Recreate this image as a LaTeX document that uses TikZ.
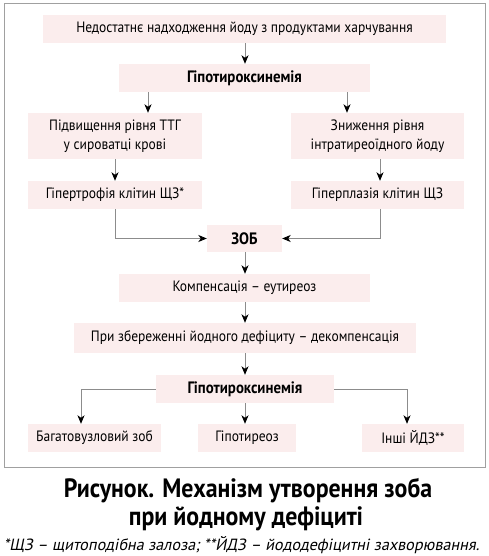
\documentclass[tikz,border=0pt]{standalone}
\usepackage{fontspec}
\setmainfont{PT Sans}[FakeStretch=0.9]
\newfontfamily\oblfont{PT Sans}[FakeSlant=0.2]
\usetikzlibrary{arrows.meta}
\definecolor{boxfill}{HTML}{FBEDED}
\definecolor{linegray}{HTML}{8C8C8C}
\definecolor{framegray}{HTML}{A0A0A0}
\begin{document}
\begin{tikzpicture}[x=1pt,y=-1pt,
  box/.style={fill=boxfill, draw=none, inner sep=0pt, align=center,
    font=\fontsize{15}{19.5}\selectfont},
  bbox/.style={box, font=\fontsize{16.5}{18}\selectfont\bfseries},
  conn/.style={draw=linegray, line width=0.8pt,
    -{Stealth[length=8.5pt,width=7pt,inset=2.5pt,color=black]}}
]
\useasboundingbox (0,0) rectangle (489,556);
\draw[framegray, line width=1pt] (4.5,3.5) rectangle (485,467.5);

\node[box, minimum width=403, minimum height=28] (b1) at (244.5,29) {Недостатнє надходження йоду з продуктами харчування};
\node[bbox, minimum width=251, minimum height=28] (b2) at (244.5,78) {Гіпотироксинемія};
\node[box, minimum width=174, minimum height=46] (b3l) at (115,136) {Підвищення рівня ТТГ\\у сироватці крові};
\node[box, minimum width=173, minimum height=46] (b3r) at (377.5,136) {Зниження рівня\\інтратиреоїдного йоду};
\node[box, minimum width=174, minimum height=28] (b4l) at (115,195) {Гіпертрофія клітин ЩЗ*};
\node[box, minimum width=173, minimum height=28] (b4r) at (377.5,195) {Гіперплазія клітин ЩЗ};
\node[bbox, minimum width=75, minimum height=27] (zob) at (244.5,238.5) {ЗОБ};
\node[box, minimum width=251, minimum height=28] (comp) at (244.5,288) {Компенсація – еутиреоз};
\node[box, minimum width=342, minimum height=30] (pri) at (245,338) {При збереженні йодного дефіциту – декомпенсація};
\node[bbox, minimum width=178, minimum height=28] (g2) at (245,389) {Гіпотироксинемія};
\node[box, minimum width=133, minimum height=28] (bl) at (94.5,438) {Багатовузловий зоб};
\node[box, minimum width=98, minimum height=28] (bm) at (247,438) {Гіпотиреоз};
\node[box, minimum width=102, minimum height=28] (br) at (413,438) {Інші ЙДЗ**};

\coordinate (xa) at (245,0);
\coordinate (xl) at (148,0);
\coordinate (xr) at (347,0);
\coordinate (xll) at (115,0);
\coordinate (xrr) at (380,0);
\coordinate (xbl) at (81,0);
\coordinate (xbr) at (407,0);

\draw[conn] (b1.south -| xa) -- (b2.north -| xa);
\draw[conn] (b2.south -| xl) -- (b3l.north -| xl);
\draw[conn] (b2.south -| xr) -- (b3r.north -| xr);
\draw[conn] (b3l.south -| xll) -- (b4l.north -| xll);
\draw[conn] (b3r.south -| xrr) -- (b4r.north -| xrr);
\draw[conn] (b4l.south -| xll) |- (zob.west);
\draw[conn] (b4r.south -| xrr) |- (zob.east);
\draw[conn] (zob.south -| xa) -- (comp.north -| xa);
\draw[conn] (comp.south -| xa) -- (pri.north -| xa);
\draw[conn] (pri.south -| xa) -- (g2.north -| xa);
\draw[conn] (g2.west) -| (bl.north -| xbl);
\draw[conn] (g2.south -| xa) -- (bm.north -| xa);
\draw[conn] (g2.east) -| (br.north -| xbr);

\node[font=\fontsize{26.5}{28}\selectfont\bfseries, anchor=base] (cap1) at (248,497) {Рисунок. Механізм утворення зоба};
\node[font=\fontsize{26.5}{28}\selectfont\bfseries, anchor=base] (cap2) at (246,525) {при йодному дефіциті};
\node[font=\fontsize{16.2}{18}\oblfont, anchor=base] (foot) at (241.5,550) {*ЩЗ – щитоподібна залоза; **ЙДЗ – йододефіцитні захворювання.};
\end{tikzpicture}
\end{document}
